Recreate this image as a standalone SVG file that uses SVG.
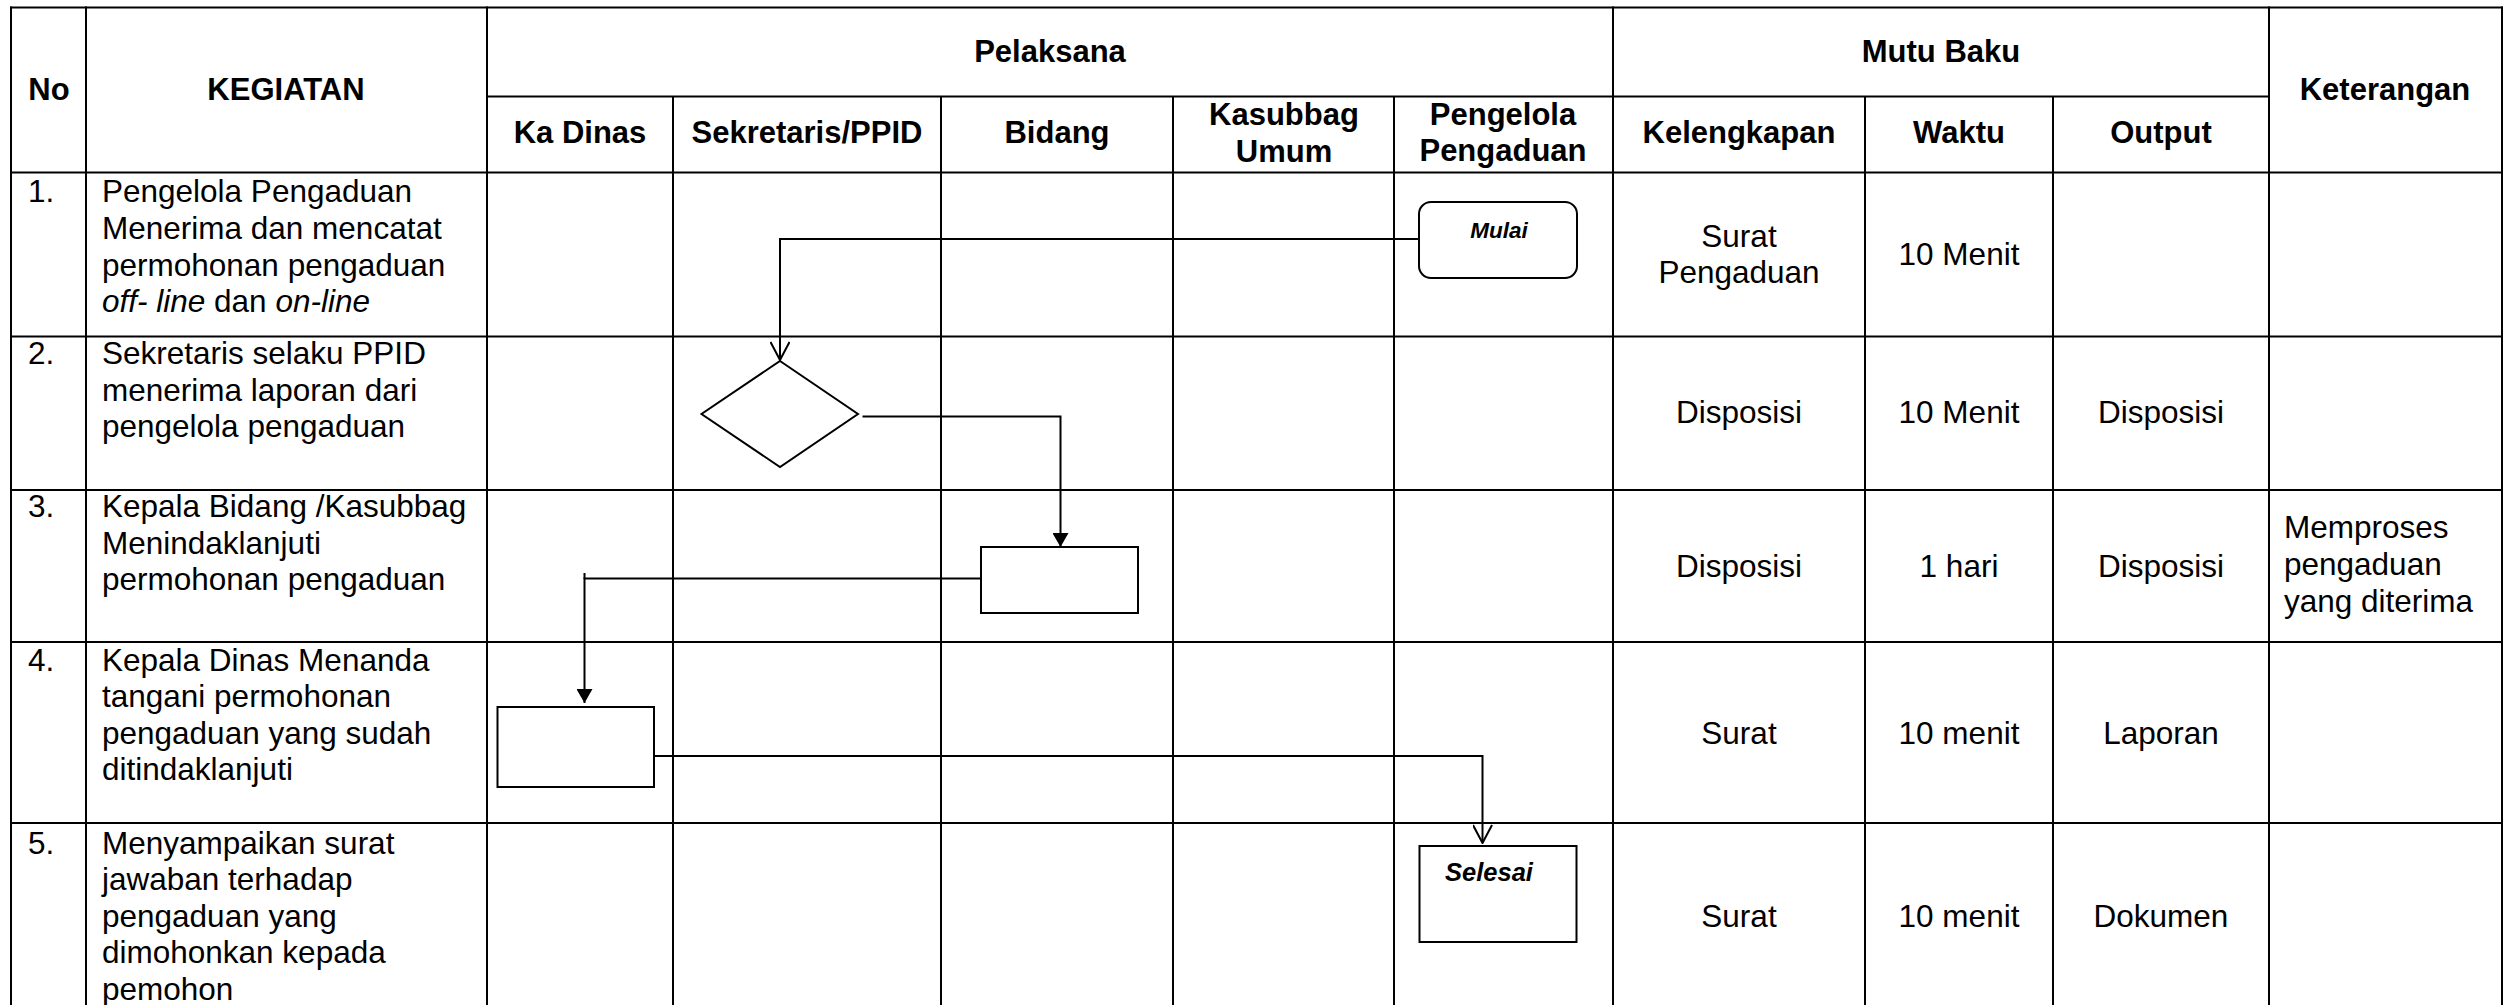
<svg xmlns="http://www.w3.org/2000/svg" width="2511" height="1005" viewBox="0 0 2511 1005">
<style>
.g{stroke:#000;stroke-width:2;fill:none}
.t{font-family:"Liberation Sans",Arial,sans-serif;font-size:31.5px;fill:#000}
.h{font-family:"Liberation Sans",Arial,sans-serif;font-size:31px;font-weight:bold;fill:#000}
.c{text-anchor:middle}
.i{font-style:italic}
.n{stroke:#000;stroke-width:2;fill:#fff}
.k{stroke:#000;stroke-width:2;fill:none}
.lb{font-family:"Liberation Sans",Arial,sans-serif;font-weight:bold;font-style:italic;fill:#000}
</style>
<defs>
<marker id="open" viewBox="0 0 20 20" refX="19" refY="10" markerWidth="20" markerHeight="20" markerUnits="userSpaceOnUse" orient="auto">
<path d="M1,0.5 L19,10 L1,19.5" fill="none" stroke="#000" stroke-width="2"/>
</marker>
<marker id="fill" viewBox="0 0 14 16" refX="14" refY="8" markerWidth="14" markerHeight="16" markerUnits="userSpaceOnUse" orient="auto">
<path d="M0,0 L14,8 L0,16 Z" fill="#000"/>
</marker>
</defs>
<rect width="2511" height="1005" fill="#fff"/>
<g id="grid" class="g">
<line x1="10" y1="7.5" x2="2503" y2="7.5"/>
<line x1="487" y1="96.5" x2="2269" y2="96.5"/>
<line x1="10" y1="172.5" x2="2503" y2="172.5"/>
<line x1="10" y1="336.5" x2="2503" y2="336.5"/>
<line x1="10" y1="490" x2="2503" y2="490"/>
<line x1="10" y1="642" x2="2503" y2="642"/>
<line x1="10" y1="823" x2="2503" y2="823"/>
<line x1="11" y1="6.5" x2="11" y2="1005"/>
<line x1="86" y1="6.5" x2="86" y2="1005"/>
<line x1="487" y1="6.5" x2="487" y2="1005"/>
<line x1="673" y1="96.5" x2="673" y2="1005"/>
<line x1="941" y1="96.5" x2="941" y2="1005"/>
<line x1="1173" y1="96.5" x2="1173" y2="1005"/>
<line x1="1394" y1="96.5" x2="1394" y2="1005"/>
<line x1="1613" y1="6.5" x2="1613" y2="1005"/>
<line x1="1865" y1="96.5" x2="1865" y2="1005"/>
<line x1="2053" y1="96.5" x2="2053" y2="1005"/>
<line x1="2269" y1="6.5" x2="2269" y2="1005"/>
<line x1="2502" y1="6.5" x2="2502" y2="1005"/>
</g>
<g id="header">
<text class="h c" x="49" y="100">No</text>
<text class="h c" x="286" y="100">KEGIATAN</text>
<text class="h c" x="1050" y="62">Pelaksana</text>
<text class="h c" x="1941" y="62">Mutu Baku</text>
<text class="h c" x="2385" y="100">Keterangan</text>
<text class="h c" x="580" y="143">Ka Dinas</text>
<text class="h c" x="807" y="143">Sekretaris/PPID</text>
<text class="h c" x="1057" y="143">Bidang</text>
<text class="h c" x="1284" y="125">Kasubbag</text>
<text class="h c" x="1284" y="162">Umum</text>
<text class="h c" x="1503" y="125">Pengelola</text>
<text class="h c" x="1503" y="161">Pengaduan</text>
<text class="h c" x="1739" y="143">Kelengkapan</text>
<text class="h c" x="1959" y="143">Waktu</text>
<text class="h c" x="2161" y="143">Output</text>
</g>
<g id="row1">
<text class="t" x="28" y="202">1.</text>
<text class="t" x="102" y="202">Pengelola Pengaduan</text>
<text class="t" x="102" y="239">Menerima dan mencatat</text>
<text class="t" x="102" y="275.5">permohonan pengaduan</text>
<text class="t" x="102" y="312"><tspan class="i">off- line</tspan> dan <tspan class="i">on-line</tspan></text>
<text class="t c" x="1739" y="247">Surat</text>
<text class="t c" x="1739" y="283">Pengaduan</text>
<text class="t c" x="1959" y="265">10 Menit</text>
</g>
<g id="row2">
<text class="t" x="28" y="364">2.</text>
<text class="t" x="102" y="364">Sekretaris selaku PPID</text>
<text class="t" x="102" y="400.5">menerima laporan dari</text>
<text class="t" x="102" y="437">pengelola pengaduan</text>
<text class="t c" x="1739" y="423">Disposisi</text>
<text class="t c" x="1959" y="423">10 Menit</text>
<text class="t c" x="2161" y="423">Disposisi</text>
</g>
<g id="row3">
<text class="t" x="28" y="517">3.</text>
<text class="t" x="102" y="517">Kepala Bidang /Kasubbag</text>
<text class="t" x="102" y="553.5">Menindaklanjuti</text>
<text class="t" x="102" y="590">permohonan pengaduan</text>
<text class="t c" x="1739" y="577">Disposisi</text>
<text class="t c" x="1959" y="577">1 hari</text>
<text class="t c" x="2161" y="577">Disposisi</text>
<text class="t" x="2284" y="538">Memproses</text>
<text class="t" x="2284" y="575">pengaduan</text>
<text class="t" x="2284" y="611.5">yang diterima</text>
</g>
<g id="row4">
<text class="t" x="28" y="670.5">4.</text>
<text class="t" x="102" y="670.5">Kepala Dinas Menanda</text>
<text class="t" x="102" y="707">tangani permohonan</text>
<text class="t" x="102" y="743.5">pengaduan yang sudah</text>
<text class="t" x="102" y="780">ditindaklanjuti</text>
<text class="t c" x="1739" y="743.5">Surat</text>
<text class="t c" x="1959" y="743.5">10 menit</text>
<text class="t c" x="2161" y="743.5">Laporan</text>
</g>
<g id="row5">
<text class="t" x="28" y="853.5">5.</text>
<text class="t" x="102" y="853.5">Menyampaikan surat</text>
<text class="t" x="102" y="890">jawaban terhadap</text>
<text class="t" x="102" y="926.5">pengaduan yang</text>
<text class="t" x="102" y="963">dimohonkan kepada</text>
<text class="t" x="102" y="999.5">pemohon</text>
<text class="t c" x="1739" y="926.5">Surat</text>
<text class="t c" x="1959" y="926.5">10 menit</text>
<text class="t c" x="2161" y="926.5">Dokumen</text>
</g>
<g id="connectors" class="k">
<path d="M1419,239 H780 V360" marker-end="url(#open)"/>
<path d="M862.5,416.5 H1060.5 V547" marker-end="url(#fill)"/>
<path d="M981,578.5 H584.5 V703" marker-end="url(#fill)"/>
<path d="M584.5,573 V579"/>
<path d="M649,756 H1482.5 V843" marker-end="url(#open)"/>
</g>
<g id="node-mulai">
<rect class="n" x="1419" y="202" width="158" height="76" rx="12" ry="12"/>
<text class="lb c" x="1499" y="238" font-size="22.5">Mulai</text>
</g>
<g id="node-decision">
<polygon class="n" points="780,361 858,414 780,467 701.5,414"/>
</g>
<g id="node-bidang">
<rect class="n" x="981" y="547" width="157" height="66"/>
</g>
<g id="node-kadinas">
<rect class="n" x="497.5" y="707" width="156.5" height="80"/>
</g>
<g id="node-selesai">
<rect class="n" x="1419.5" y="846" width="157" height="96"/>
<text class="lb" x="1445" y="881" font-size="25.5">Selesai</text>
</g>
</svg>
